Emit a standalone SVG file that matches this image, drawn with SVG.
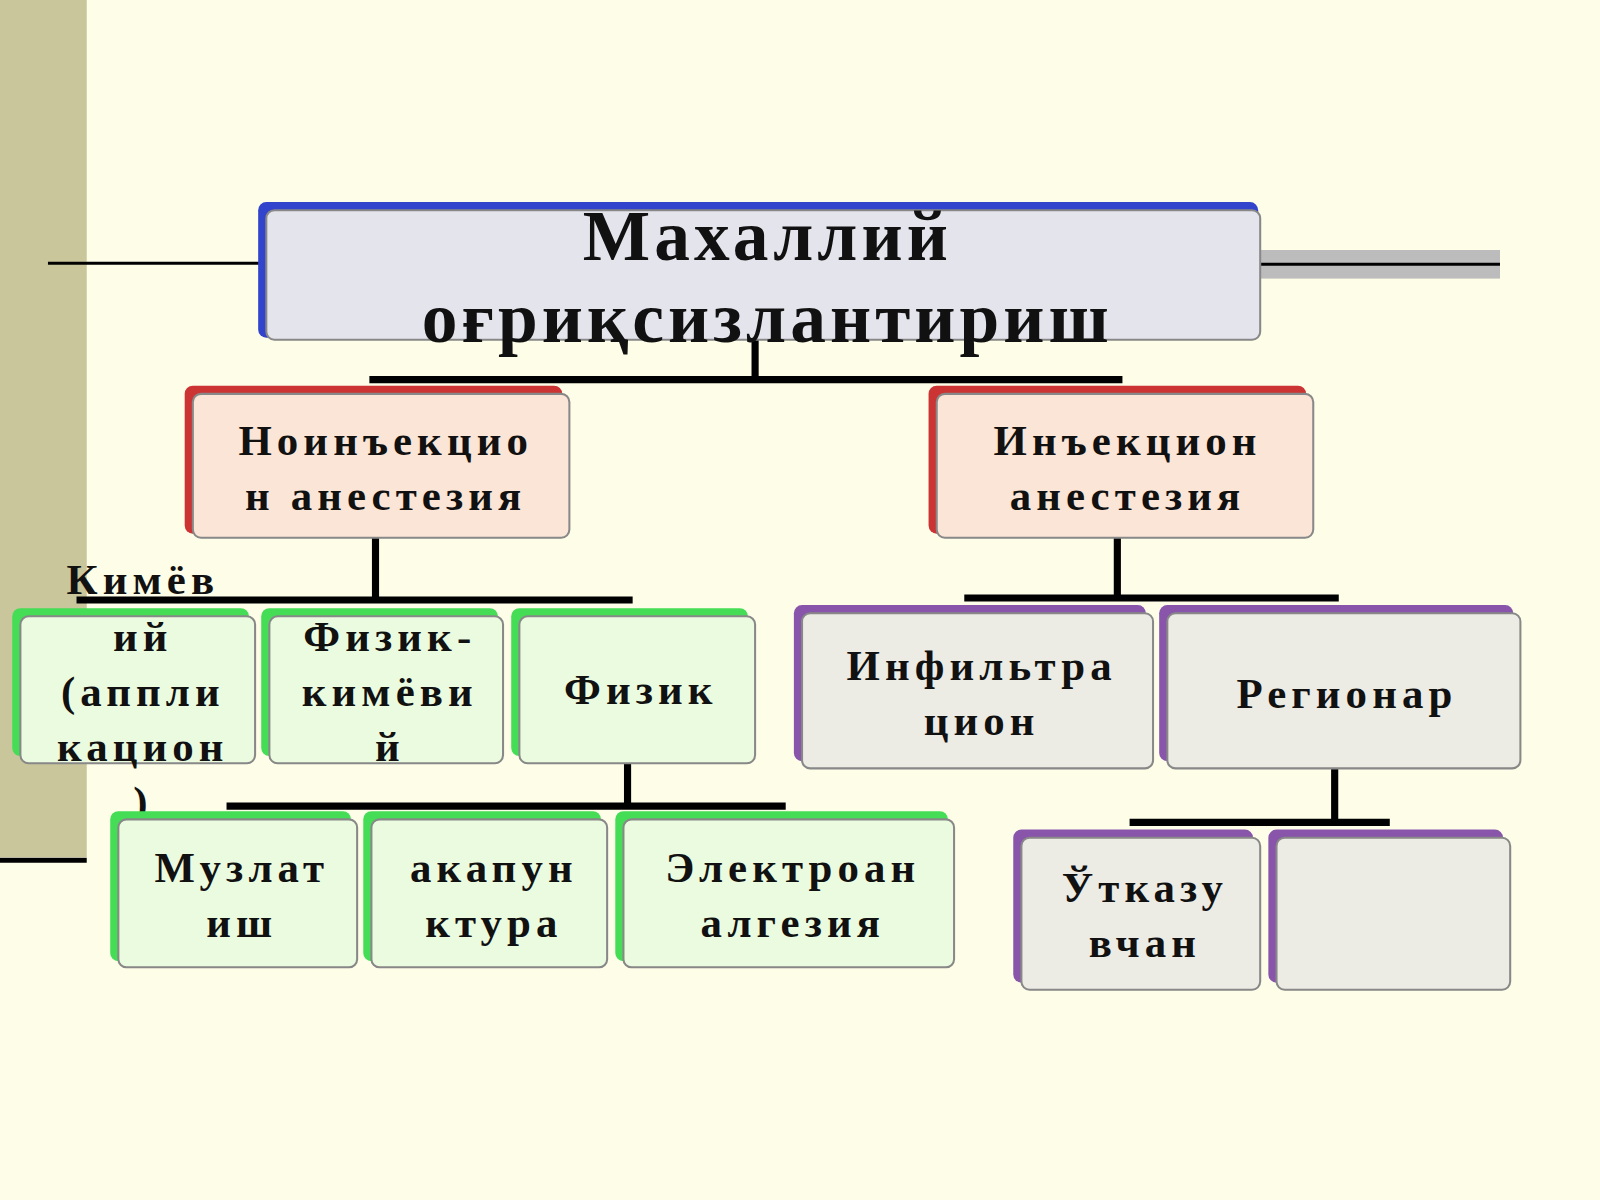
<svg xmlns="http://www.w3.org/2000/svg" width="1600" height="1200" viewBox="0 0 1600 1200">
<style>
text{font-family:"Liberation Serif","DejaVu Serif",serif;font-weight:bold;fill:#111;text-anchor:middle}
.t{font-size:70px;letter-spacing:4px}.m{font-size:42px;letter-spacing:5px}
.box{stroke:#888;stroke-width:2}
.c{stroke:#000;fill:none}
</style>
<rect width="1600" height="1200" fill="#fdfde8"/>
<g transform="scale(1.0204)">
<rect x="0" y="0" width="85" height="840" fill="#c9c69b"/>
<line x1="0" y1="843" x2="85" y2="843" stroke="#000" stroke-width="5"/>
<line x1="47" y1="258" x2="255" y2="258" stroke="#000" stroke-width="3"/>
<rect x="1235" y="245" width="235" height="28" fill="#bcbcbc"/>
<line x1="1235" y1="259" x2="1470" y2="259" stroke="#000" stroke-width="3"/>
<g id="connectors">
<path class="c" stroke-width="7" d="M740 333V372M362 372H1100M368 527V588M75 588H620M615 748V790M222 790H770M1095 527V586M945 586H1312M1308 753V806M1107 806H1362"/>
</g>
<g id="root"><rect x="253" y="198" width="980" height="133" rx="8" fill="#3344cc"/><rect class="box" x="261" y="206" width="974" height="127" rx="8" fill="#e4e4ec"/>
<text class="t" x="752" y="255">Махаллий</text><text class="t" x="752" y="335">оғриқсизлантириш</text></g>
<g id="noinj"><rect x="181" y="378" width="370" height="145" rx="8" fill="#cc3333"/><rect class="box" x="189" y="386" width="369" height="141" rx="8" fill="#fbe5d6"/>
<text class="m" x="378" y="446">Ноинъекцио</text><text class="m" x="378" y="500">н анестезия</text></g>
<g id="inj"><rect x="910" y="378" width="370" height="145" rx="8" fill="#cc3333"/><rect class="box" x="918" y="386" width="369" height="141" rx="8" fill="#fbe5d6"/>
<text class="m" x="1105" y="446">Инъекцион</text><text class="m" x="1105" y="500">анестезия</text></g>
<g id="kimyo"><rect x="12" y="596" width="232" height="145" rx="8" fill="#44dd55"/><rect class="box" x="20" y="604" width="230" height="144" rx="8" fill="#ebfbdf"/>
<text class="m" x="140" y="582">Кимёв</text><text class="m" x="140" y="638">ий</text><text class="m" x="140" y="692">(аппли</text><text class="m" x="140" y="746">кацион</text><text class="m" x="140" y="800">)</text></g>
<g id="fizkim"><rect x="256" y="596" width="232" height="145" rx="8" fill="#44dd55"/><rect class="box" x="264" y="604" width="229" height="144" rx="8" fill="#ebfbdf"/>
<text class="m" x="382" y="638">Физик-</text><text class="m" x="382" y="692">кимёви</text><text class="m" x="382" y="746">й</text></g>
<g id="fizik"><rect x="501" y="596" width="232" height="145" rx="8" fill="#44dd55"/><rect class="box" x="509" y="604" width="231" height="144" rx="8" fill="#ebfbdf"/>
<text class="m" x="628" y="690">Физик</text></g>
<g id="muz"><rect x="108" y="795" width="236" height="147" rx="8" fill="#44dd55"/><rect class="box" x="116" y="803" width="234" height="145" rx="8" fill="#ebfbdf"/>
<text class="m" x="237" y="864">Музлат</text><text class="m" x="237" y="918">иш</text></g>
<g id="aka"><rect x="356" y="795" width="233" height="147" rx="8" fill="#44dd55"/><rect class="box" x="364" y="803" width="231" height="145" rx="8" fill="#ebfbdf"/>
<text class="m" x="484" y="864">акапун</text><text class="m" x="484" y="918">ктура</text></g>
<g id="elek"><rect x="603" y="795" width="326" height="147" rx="8" fill="#44dd55"/><rect class="box" x="611" y="803" width="324" height="145" rx="8" fill="#ebfbdf"/>
<text class="m" x="777" y="864">Электроан</text><text class="m" x="777" y="918">алгезия</text></g>
<g id="infil"><rect x="778" y="593" width="345" height="153" rx="8" fill="#8855aa"/><rect class="box" x="786" y="601" width="344" height="152" rx="8" fill="#ecebe4"/>
<text class="m" x="962" y="666">Инфильтра</text><text class="m" x="962" y="720">цион</text></g>
<g id="regi"><rect x="1136" y="593" width="347" height="153" rx="8" fill="#8855aa"/><rect class="box" x="1144" y="601" width="346" height="152" rx="8" fill="#ecebe4"/>
<text class="m" x="1320" y="694">Регионар</text></g>
<g id="utk"><rect x="993" y="813" width="235" height="150" rx="8" fill="#8855aa"/><rect class="box" x="1001" y="821" width="234" height="149" rx="8" fill="#ecebe4"/>
<text class="m" x="1122" y="884">Ўтказу</text><text class="m" x="1122" y="938">вчан</text></g>
<g id="empty"><rect x="1243" y="813" width="230" height="150" rx="8" fill="#8855aa"/><rect class="box" x="1251" y="821" width="229" height="149" rx="8" fill="#ecebe4"/></g>
</g>
</svg>
